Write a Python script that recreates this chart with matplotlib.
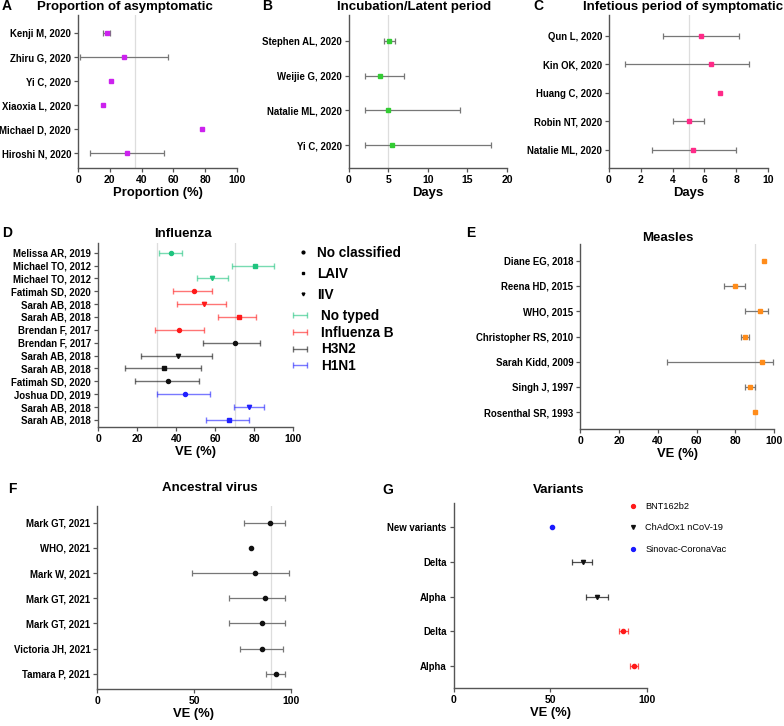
import numpy as np
import matplotlib
matplotlib.use('Agg')
import matplotlib.pyplot as plt
from matplotlib.lines import Line2D

plt.rcParams['font.family'] = ['Liberation Sans', 'DejaVu Sans']
plt.rcParams['font.weight'] = 'bold'
plt.rcParams['axes.labelweight'] = 'bold'

W, H = 784, 726

# ---- A: proportion of asymptomatic
a_names = ['Kenji M, 2020', 'Zhiru G, 2020', 'Yi C, 2020', 'Xiaoxia L, 2020',
           'Michael D, 2020', 'Hiroshi N, 2020']
a_est = [18, 29, 21, 16, 78, 31]
a_lo = [15.5, 1.5, None, None, None, 7.5]
a_hi = [20, 56.5, None, None, None, 54]

# ---- B: incubation / latent period
b_names = ['Stephen AL, 2020', 'Weijie G, 2020', 'Natalie ML, 2020', 'Yi C, 2020']
b_est = [5.1, 4.0, 5.0, 5.5]
b_lo = [4.5, 2.0, 2.0, 2.0]
b_hi = [5.8, 7.0, 14.0, 18.0]

# ---- C: infectious period of symptomatic
c_names = ['Qun L, 2020', 'Kin OK, 2020', 'Huang C, 2020', 'Robin NT, 2020',
           'Natalie ML, 2020']
c_est = [5.8, 6.4, 7.0, 5.0, 5.3]
c_lo = [3.4, 1.0, None, 4.0, 2.7]
c_hi = [8.2, 8.8, None, 6.0, 8.0]

# ---- D: influenza
d_names = ['Melissa AR, 2019', 'Michael TO, 2012', 'Michael TO, 2012',
           'Fatimah SD, 2020', 'Sarah AB, 2018', 'Sarah AB, 2018',
           'Brendan F, 2017', 'Brendan F, 2017', 'Sarah AB, 2018',
           'Sarah AB, 2018', 'Fatimah SD, 2020', 'Joshua DD, 2019',
           'Sarah AB, 2018', 'Sarah AB, 2018']
d_est = [37.5, 80.5, 58.5, 49, 54, 72, 41.5, 70, 41, 34, 36, 44.5, 77.5, 67]
d_lo = [31, 68.5, 50.5, 38.5, 40.5, 61.5, 29, 53.5, 22, 14, 19, 30, 69.5, 55.5]
d_hi = [43, 90, 66.5, 58.5, 65.5, 81, 54, 83, 58.5, 52.5, 51.5, 57.5, 85, 77.5]
d_type = ['No typed', 'No typed', 'No typed', 'Influenza B', 'Influenza B',
          'Influenza B', 'Influenza B', 'H3N2', 'H3N2', 'H3N2', 'H3N2',
          'H1N1', 'H1N1', 'H1N1']
d_vacc = ['No classified', 'LAIV', 'IIV', 'No classified', 'IIV', 'LAIV',
          'No classified', 'No classified', 'IIV', 'LAIV', 'No classified',
          'No classified', 'IIV', 'LAIV']
type_colors = {'No typed': '#1fc47f', 'Influenza B': '#ff1a1a',
               'H3N2': '#111111', 'H1N1': '#2020ff'}
vacc_markers = {'No classified': ('o', 2.9), 'LAIV': ('s', 3.3), 'IIV': ('v', 3.1)}

# ---- E: measles
e_names = ['Diane EG, 2018', 'Reena HD, 2015', 'WHO, 2015',
           'Christopher RS, 2010', 'Sarah Kidd, 2009', 'Singh J, 1997',
           'Rosenthal SR, 1993']
e_est = [95, 80, 92.8, 85, 94, 87.5, 90]
e_lo = [None, 74, 85, 83, 45, 85, None]
e_hi = [None, 85, 97, 87, 99.3, 90, None]

# ---- F: ancestral virus
f_names = ['Mark GT, 2021', 'WHO, 2021', 'Mark W, 2021', 'Mark GT, 2021',
           'Mark GT, 2021', 'Victoria JH, 2021', 'Tamara P, 2021']
f_est = [89.3, 79.3, 81.4, 86.6, 85, 85, 92.6]
f_lo = [76, None, 49, 68, 68, 74, 87]
f_hi = [97, None, 99, 97, 97, 96, 97]

# ---- G: variants
g_names = ['New variants', 'Delta', 'Alpha', 'Delta', 'Alpha']
g_est = [50.8, 66.8, 74.2, 87.8, 93.6]
g_lo = [None, 61.5, 68.5, 85.5, 91.5]
g_hi = [None, 71.8, 79.8, 90.3, 95.6]
g_vaccine = ['Sinovac-CoronaVac', 'ChAdOx1 nCoV-19', 'ChAdOx1 nCoV-19',
             'BNT162b2', 'BNT162b2']
g_style = {'BNT162b2': ('#ff1a1a', 'o'), 'ChAdOx1 nCoV-19': ('#111111', 'v'),
           'Sinovac-CoronaVac': ('#1a1aff', 'o')}

SPINE = '#555555'
YTICKFS = 6.9
XTICKFS = 7.5


def box(l, t, r, b):
    return [l / W, 1 - b / H, (r - l) / W, (b - t) / H]


def style_axis(ax, names, xlim, xticks, pad_top, pad_bot, ref=None):
    n = len(names)
    ax.set_xlim(*xlim)
    ax.set_ylim(n - 1 + pad_bot, -pad_top)
    ax.set_yticks(range(n))
    ax.set_yticklabels(names, fontsize=YTICKFS, fontweight='bold')
    ax.set_xticks(xticks)
    ax.set_xticklabels([str(t) for t in xticks], fontsize=XTICKFS, fontweight='bold')
    for s in ['top', 'right']:
        ax.spines[s].set_visible(False)
    for s in ['left', 'bottom']:
        ax.spines[s].set_color(SPINE)
        ax.spines[s].set_linewidth(1.0)
    ax.tick_params(colors=SPINE, labelcolor='black', length=3, width=0.9, pad=2)
    if ref is not None:
        ax.axvline(ref, color='#dddddd', lw=0.9, zorder=0)


def forest(ax, est, lo, hi, color, ecolor='#777777', ms=2.8, marker='s'):
    y = np.arange(len(est))
    for i in range(len(est)):
        if lo[i] is not None:
            ax.errorbar(est[i], y[i], xerr=[[est[i] - lo[i]], [hi[i] - est[i]]],
                        fmt='none', ecolor=ecolor, elinewidth=0.9, capsize=2.2,
                        capthick=0.9, zorder=2)
    ax.plot(est, y, linestyle='none', marker=marker, ms=ms, color=color, zorder=3)


fig = plt.figure(figsize=(W / 100, H / 100), dpi=100)

# A
axA = fig.add_axes(box(78, 15, 237, 168))
forest(axA, a_est, a_lo, a_hi, '#cc22ee')
style_axis(axA, a_names, (0, 100), [0, 20, 40, 60, 80, 100], 0.75, 0.62, ref=36)
axA.set_xlabel('Proportion (%)', fontsize=9.4, labelpad=1.5)

# B
axB = fig.add_axes(box(348.7, 15, 507, 168))
forest(axB, b_est, b_lo, b_hi, '#33cc33')
style_axis(axB, b_names, (0, 20), [0, 5, 10, 15, 20], 0.74, 0.66, ref=5)
axB.set_xlabel('Days', fontsize=9.4, labelpad=1.5)

# C
axC = fig.add_axes(box(609, 15, 768, 168))
forest(axC, c_est, c_lo, c_hi, '#ff2a88')
style_axis(axC, c_names, (0, 10), [0, 2, 4, 6, 8, 10], 0.72, 0.63, ref=5)
axC.set_xlabel('Days', fontsize=9.4, labelpad=1.5)

# D
axD = fig.add_axes(box(98, 243, 293.4, 427))
for i in range(len(d_est)):
    col = type_colors[d_type[i]]
    mk, ms = vacc_markers[d_vacc[i]]
    axD.errorbar(d_est[i], i, xerr=[[d_est[i] - d_lo[i]], [d_hi[i] - d_est[i]]],
                 fmt='none', ecolor=col, alpha=0.6, elinewidth=1.0, capsize=2.2,
                 capthick=1.0, zorder=2)
    axD.plot(d_est[i], i, linestyle='none', marker=mk, ms=ms, color=col, zorder=3)
style_axis(axD, d_names, (0, 100), [0, 20, 40, 60, 80, 100], 0.75, 0.55)
axD.axvline(30, color='#dddddd', lw=0.9, zorder=0)
axD.axvline(70, color='#dddddd', lw=0.9, zorder=0)
axD.set_xlabel('VE (%)', fontsize=9.4, labelpad=1.5)

mk_handles = [Line2D([], [], linestyle='none', marker=vacc_markers[k][0], ms=2.0,
                     color='black') for k in ['No classified', 'LAIV', 'IIV']]
fig.legend(mk_handles, ['No classified', 'LAIV', 'IIV'], loc='upper left',
           bbox_to_anchor=(296 / W, 1 - 246 / H), frameon=False, borderpad=0,
           borderaxespad=0, handlelength=1.0, handletextpad=0.55,
           labelspacing=0.5, prop={'weight': 'bold', 'size': 9.8})
eb_handles = []
for k in ['No typed', 'Influenza B', 'H3N2', 'H1N1']:
    h = axD.errorbar([np.nan], [np.nan], xerr=[[1], [1]], fmt='none',
                     ecolor=type_colors[k], alpha=0.6, elinewidth=1.0,
                     capsize=2.5, capthick=1.0)
    eb_handles.append(h)
fig.legend(eb_handles, ['No typed', 'Influenza B', 'H3N2', 'H1N1'], loc='upper left',
           bbox_to_anchor=(291 / W, 1 - 309 / H), frameon=False, borderpad=0,
           borderaxespad=0, handlelength=1.35, handletextpad=0.85,
           labelspacing=0.2, prop={'weight': 'bold', 'size': 9.8})

# E
axE = fig.add_axes(box(580.3, 244, 774, 429.3))
forest(axE, e_est, e_lo, e_hi, '#ff8c1a')
style_axis(axE, e_names, (0, 100), [0, 20, 40, 60, 80, 100], 0.66, 0.67, ref=90)
axE.set_xlabel('VE (%)', fontsize=9.4, labelpad=1.5)

# F
axF = fig.add_axes(box(97.3, 506, 290.7, 689.3))
forest(axF, f_est, f_lo, f_hi, '#111111', marker='o', ms=3.0)
style_axis(axF, f_names, (0, 100), [0, 50, 100], 0.66, 0.61, ref=90)
axF.set_xlabel('VE (%)', fontsize=9.4, labelpad=1.5)

# G
axG = fig.add_axes(box(453.7, 503, 646.7, 688.3))
for i in range(len(g_est)):
    col, mk = g_style[g_vaccine[i]]
    if g_lo[i] is not None:
        axG.errorbar(g_est[i], i, xerr=[[g_est[i] - g_lo[i]], [g_hi[i] - g_est[i]]],
                     fmt='none', ecolor=col, alpha=0.75, elinewidth=0.9,
                     capsize=2.2, capthick=0.9, zorder=2)
    axG.plot(g_est[i], i, linestyle='none', marker=mk, ms=3.0, color=col, zorder=3)
style_axis(axG, g_names, (0, 100), [0, 50, 100], 0.7, 0.64)
axG.set_xlabel('VE (%)', fontsize=9.4, labelpad=1.5)

g_handles = [Line2D([], [], linestyle='none', marker=g_style[k][1], ms=2.8,
                    color=g_style[k][0])
             for k in ['BNT162b2', 'ChAdOx1 nCoV-19', 'Sinovac-CoronaVac']]
fig.legend(g_handles, ['BNT162b2', 'ChAdOx1 nCoV-19', 'Sinovac-CoronaVac'],
           loc='upper left', bbox_to_anchor=(628 / W, 1 - 502 / H), frameon=False,
           borderpad=0, borderaxespad=0, handlelength=1.0, handletextpad=0.9,
           labelspacing=1.35, prop={'weight': 'normal', 'size': 6.6})

# titles and panel letters
titles = [('Proportion of asymptomatic', 125, 10), ('Incubation/Latent period', 414, 10),
          ('Infetious period of symptomatic', 683, 10), ('Influenza', 183, 236.7),
          ('Measles', 668, 240.7), ('Ancestral virus', 210, 490.7),
          ('Variants', 559, 493.3)]
for t, x, y in titles:
    fig.text(x / W, 1 - y / H, t, ha='center', va='baseline', fontsize=9.5,
             fontweight='bold')
letters = [('A', 2, 10), ('B', 262, 10), ('C', 533, 10), ('D', 2, 237),
           ('E', 466, 237), ('F', 8, 493), ('G', 382, 494)]
for t, x, y in letters:
    fig.text(x / W, 1 - y / H, t, ha='left', va='baseline', fontsize=10,
             fontweight='bold')

fig.savefig('out.png', dpi=100)
